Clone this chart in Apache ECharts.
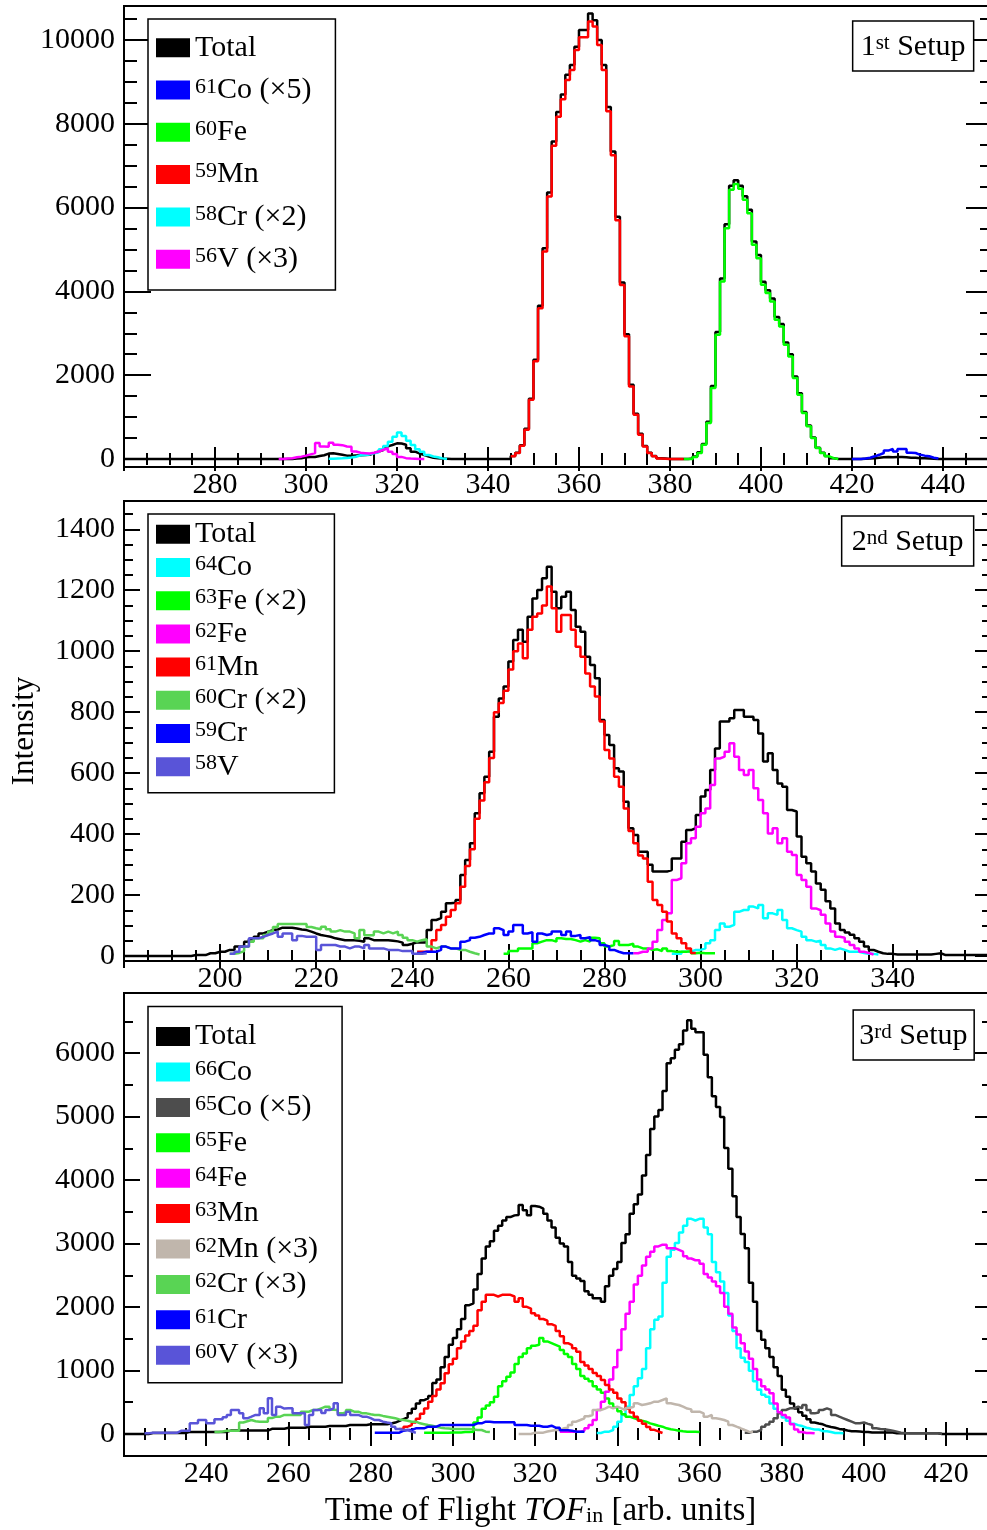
<!DOCTYPE html>
<html>
<head>
<meta charset="utf-8">
<script src="https://cdn.jsdelivr.net/npm/echarts@6/dist/echarts.min.js"></script>
<style>
html,body{margin:0;padding:0;background:#fff;}
#chart{width:987px;height:1530px;}
</style>
</head>
<body>
<div id="chart"></div>
<script>
// ================= DATA =================
// Histograms: value of each 1-unit bin, starting at the given TOF bin edge.

// ---------- Panel 1 : 1st Setup ----------
const p1XTicks = [280, 300, 320, 340, 360, 380, 400, 420, 440];
const p1YTicks = [0, 2000, 4000, 6000, 8000, 10000];
const p1TotalStart = 260;
const p1Total = [
  0,0,0,0,0,0,0,0,0,0, 0,0,0,0,0,0,0,0,0,0, 0,0,0,0,0,0,0,0,0,0, 0,0,0,0,0,0,0,
  10,20,40,45,50,70,90,130,135,120,100,80,80,85,90,95,100,140,180,215,300,334,374,370,340,255,175,130,95,60,30,20,10,5,
  0,0,0,0,0,0,0,0,0,0,0,0,0,0,
  70,150,330,720,1440,2370,3660,5030,6360,7580,8280,8700,9170,9400,9840,10240,10240,10630,10470,10000,9400,8400,7340,5780,4210,2980,1770,1080,600,310,150,70,20,10,
  0,0,0,0,0,
  10,60,160,360,890,1740,3030,4310,5600,6520,6650,6520,6270,5950,5190,4870,4230,4030,3830,3390,3220,2780,2500,1970,1570,1120,800,515,270,150,70,20,
  0,0,0,0,0,0,5,
  10,20,30,40,50,40,50,50,40,30,30,20,15,10,5,
  0,0,0,0,0,0,0,0,0,0,0,0,0
];
const p1Co61Start = 420;
const p1Co61 = [0,0,10,30,64,100,143,200,240,180,240,240,150,143,100,80,64,30,10];
const p1Fe60Start = 383;
const p1Fe60 = [0,0,48,143,342,860,1693,2965,4237,5509,6423,6560,6450,6185,5867,5112,4793,4157,3959,3760,3323,3164,2727,2449,1932,1534,1097,779,500,262,143,64,20,0];
const p1Mn59Start = 345;
const p1Mn59 = [64,143,318,700,1415,2330,3600,4950,6265,7473,8170,8586,9047,9285,9762,10065,10065,10439,10320,9880,9285,8300,7250,5700,4150,2930,1733,1057,580,300,143,64,10,5,0,0,0,0];
const p1Cr58Start = 305;
const p1Cr58 = [5,10,15,25,35,55,90,95,110,135,160,230,310,414,533,630,550,438,334,230,175,95,60,40,15,0];
const p1V56Start = 294;
const p1V56 = [0,10,20,40,56,80,110,140,380,300,290,390,340,330,300,290,180,150,140,130,150,180,220,250,170,120,50,20,10,5,0,0];

// ---------- Panel 2 : 2nd Setup ----------
const p2XTicks = [200, 220, 240, 260, 280, 300, 320, 340];
const p2YTicks = [0, 200, 400, 600, 800, 1000, 1200, 1400];
const p2TotalStart = 180;
const p2Total = [
  0,0,0,0,0,0,0,0,0,0,0,0,0,0,
  3,3,3,9,9,14,14,20,20,31,31,47,55,63,74,80,85,87,93,93,93,90,87,85,80,74,69,66,63,58,55,52,52,52,50,47,58,52,52,52,52,50,48,44,36,40,45,44,44,85,118,124,145,173,175,184,
  266,315,370,468,534,588,670,785,845,884,
  966,1037,1070,1031,1113,1173,1201,1239,1277,1195,
  1141,1179,1195,1135,1080,1064,982,955,911,774,
  725,692,616,605,506,419,397,342,342,299,
  277,277,277,282,320,320,375,413,419,463,
  523,545,610,681,769,769,780,807,807,785,
  785,774,730,638,665,610,566,555,479,474,
  392,326,304,277,238,217,180,156,107,85,
  77,70,58,47,31,20,14,9,7,7,
  5,5,5,5,5,5,5,5,7,9,
  3,3,3,3,3,3,3,3,3,3,3
];
const p2Co64Start = 294;
const p2Co64 = [7,7,14,14,20,20,25,42,52,85,107,96,102,145,151,151,162,156,167,124,140,135,151,118,91,85,80,63,52,47,50,36,25,20,25,20,14,14,14,10,7,7,5];
const p2Fe63Start = 259;
const p2Fe63 = [7,16,16,25,25,25,42,47,52,52,47,58,56,56,52,47,52,47,60,58,42,31,36,49,36,36,40,31,25,25,20,22,16,25,16,14,14,14,16,9,11,9,9,9];
const p2Fe62Start = 286;
const p2Fe62 = [9,14,14,25,47,85,118,140,249,255,304,370,386,424,468,484,561,648,654,670,698,654,610,594,610,550,512,468,402,419,370,386,342,331,266,249,227,156,150,135,107,80,63,60,47,36,25,14,10,5];
const p2Mn61Start = 241;
const p2Mn61 = [14,14,14,52,85,102,129,151,173,227,295,350,450,510,570,650,800,830,870,940,1000,1025,977,1070,1113,1124,1150,1212,1141,1064,1119,1119,1070,1015,982,927,884,851,769,676,648,588,555,484,410,370,330,320,244,184,167,145,113,74,58,42,25,10];
const p2Cr60Start = 202;
const p2Cr60 = [7,10,16,30,47,58,58,69,80,95,105,105,105,105,105,105,95,91,88,96,88,80,85,80,80,74,58,85,68,68,80,74,80,74,80,69,60,52,47,52,55,31,25,31,31,25,25,20,20,14,9,5];
const p2Cr59Start = 241;
const p2Cr59 = [10,14,14,14,20,31,25,25,25,47,52,60,63,69,74,74,91,85,69,80,102,102,74,78,47,74,69,72,80,80,69,80,66,69,58,62,52,47,36,31,20,14,9,9,9];
const p2V58Start = 202;
const p2V58 = [7,14,31,31,58,58,63,69,74,80,63,74,74,52,66,63,63,63,20,36,36,36,31,31,25,31,31,25,36,25,25,25,20,20,20,16,16,16,7,7,9];

// ---------- Panel 3 : 3rd Setup ----------
const p3XTicks = [240, 260, 280, 300, 320, 340, 360, 380, 400, 420];
const p3YTicks = [0, 1000, 2000, 3000, 4000, 5000, 6000];
const p3TotalStart = 220;
const p3Total = [
  0,0,0,0,0,0,
  16,16,16,16,16,16,16,16,16,
  33,33,33,33,33,33,33,33,33,33,
  54,54,54,54,54,54,54,54,54,54,
  82,82,82,82,
  98,98,98,98,98,
  114,114,114,114,114,
  125,125,125,125,125,
  141,141,141,141,141,
  152,152,152,152,152,
  165,180,207,235,261,326,397,479,533,560,598,805,860,1050,1213,1404,
  1512,1648,1811,2029,2056,2274,2519,2764,2954,3035,
  3199,3280,3362,3416,3443,3450,3607,3525,3443,3590,
  3580,3550,3470,3362,3253,3090,3000,2954,2709,2491,
  2450,2410,2247,2192,2138,2138,2084,2328,2491,2600,
  2709,3008,3144,3470,3620,3770,4069,4395,4803,5000,
  5103,5402,5837,5919,6050,6136,6354,6517,6381,6327,
  6327,5974,5620,5320,5150,4994,4504,4178,3743,3416,
  3150,2927,2383,2084,1621,1485,1350,1213,1050,914,
  696,588,479,400,343,288,234,180,165,152,
  125,110,98,80,71,54,44,44,40,33,
  33,22,22,22,22,22,22,11,11,11,
  11,11,11,11,11,11,11,11,0,0,
  0,0,0,0,0,0,0,0,0,0,0
];
const p3Co66Start = 335;
const p3Co66 = [16,37,37,63,115,194,300,430,614,750,877,1023,1349,1648,1800,1850,2383,2791,2900,3008,3172,3280,3389,3362,3389,3389,3253,3144,2709,2546,2400,2220,1866,1621,1349,1200,1132,996,832,696,620,588,479,397,343,261,207,163,140,125,98,85,71,71,44,44,30,16,16,10];
const p3Co65Start = 371;
const p3Co65 = [20,37,37,63,115,150,194,247,325,378,404,404,430,404,457,378,325,340,378,404,380,300,273,247,220,194,168,168,180,160,142,89,80,75,63,50,37,21,15,10,10,10,10,10,10,10,10,5];
const p3Fe65Start = 293;
const p3Fe65 = [20,20,20,20,20,20,25,25,25,30,30,37,180,261,397,450,500,588,751,832,900,968,1104,1213,1268,1349,1390,1404,1512,1458,1431,1404,1376,1322,1260,1213,1104,1023,914,870,832,751,700,650,560,480,420,360,310,273,250,230,210,194,168,150,130,115,89,75,65,52,44,37,37,37,30];
const p3Fe64Start = 326;
const p3Fe64 = [37,37,37,37,37,50,89,142,220,378,509,667,860,1050,1322,1648,1893,2084,2355,2491,2655,2791,2872,2954,2981,2981,2927,2927,2900,2872,2800,2764,2736,2736,2682,2519,2464,2400,2328,2220,2002,1893,1676,1567,1431,1300,1186,1023,860,751,700,642,479,343,300,261,152,71,30,16,16,10];
const p3Mn63Start = 287;
const p3Mn63 = [79,115,140,180,240,320,400,509,600,700,798,955,1100,1186,1349,1458,1550,1621,1703,1948,2084,2192,2192,2165,2192,2192,2192,2165,2084,2138,2002,1975,1900,1866,1811,1784,1730,1703,1621,1540,1431,1400,1349,1295,1132,1077,1023,960,914,850,770,700,650,560,500,400,340,270,210,160,110,65,40,16];
const p3Mn62Start = 316;
const p3Mn62 = [0,0,0,21,21,21,40,52,63,63,89,100,142,194,220,247,280,300,378,378,400,430,404,430,404,378,410,430,483,457,470,483,509,509,535,562,483,470,457,430,400,388,352,352,325,273,300,247,235,220,194,142,115,90,63,37,30];
const p3Cr62Start = 242;
const p3Cr62 = [30,40,52,52,52,52,180,200,220,200,194,194,194,250,273,273,300,300,300,300,300,352,352,378,378,404,430,430,380,378,325,340,378,352,352,325,325,310,300,300,285,273,260,247,230,220,210,194,194,168,155,142,130,115,100,89,85,79,79,79,79,79,70,63,63,37,30];
const p3Cr61Start = 281;
const p3Cr61 = [21,21,21,21,21,21,52,63,63,89,89,89,115,115,115,142,142,142,142,142,142,142,142,142,168,168,194,194,184,184,184,184,184,184,142,142,142,131,131,131,115,115,131,100,100,60,60,50,37,37,37];
const p3V60Start = 225;
const p3V60 = [10,21,21,21,21,21,21,21,52,52,52,168,168,220,220,168,168,231,231,263,300,378,378,325,247,273,300,300,404,325,562,300,430,400,404,404,325,325,330,142,300,378,378,330,378,404,483,300,300,352,300,300,273,273,250,220,220,194,180,168,115,80,63,63,37,20];

// ================= CHART =================
const FONT = '"Liberation Serif", "Times New Roman", serif';
const BLACK = '#000000';

function hist(start, vals) {
  const pts = vals.map((v, i) => [start + i, v]);
  pts.push([start + vals.length, vals[vals.length - 1]]);
  return pts;
}
function range(a, b, s) { const r = []; for (let v = a; v <= b + 1e-9; v += s) r.push(v); return r; }

const panels = [
  { grid: {left: 124, top: 6, width: 869, height: 461},
    xMin: 260, xMax: 451, yMin: -191, yMax: 10811, xLab: p1XTicks,
    yMaj: p1YTicks, yMin2: range(500, 10500, 500), yLen: 27, yMinLen: 13,
    series: [
      ['Total', BLACK, p1TotalStart, p1Total],
      ['61Co (×5)', '#0000ff', p1Co61Start, p1Co61],
      ['60Fe', '#00ff00', p1Fe60Start, p1Fe60],
      ['59Mn', '#ff0000', p1Mn59Start, p1Mn59],
      ['58Cr (×2)', '#00ffff', p1Cr58Start, p1Cr58],
      ['56V (×3)', '#ff00ff', p1V56Start, p1V56]
    ],
    legend: {left: 148, top: 19, itemGap: 12.3, padding: [13.7, 24, 15.8, 8]},
    title: {text: '{n|1}{s|st}{n| Setup}', top: 22, padLR: 8.5}
  },
  { grid: {left: 124, top: 501, width: 867, height: 460},
    xMin: 180, xMax: 360.44, yMin: -16.4, yMax: 1492.8, xLab: p2XTicks,
    yMaj: p2YTicks, yMin2: range(50, 1450, 50), yLen: 16, yMinLen: 9,
    series: [
      ['Total', BLACK, p2TotalStart, p2Total],
      ['64Co', '#00ffff', p2Co64Start, p2Co64],
      ['63Fe (×2)', '#00ff00', p2Fe63Start, p2Fe63],
      ['62Fe', '#ff00ff', p2Fe62Start, p2Fe62],
      ['61Mn', '#ff0000', p2Mn61Start, p2Mn61],
      ['60Cr (×2)', '#59d454', p2Cr60Start, p2Cr60],
      ['59Cr', '#0000ff', p2Cr59Start, p2Cr59],
      ['58V', '#5954d8', p2V58Start, p2V58]
    ],
    legend: {left: 148, top: 514, itemGap: 3.2, padding: [5.3, 28, 11, 8]},
    title: {text: '{n|2}{s|nd}{n| Setup}', top: 517, padLR: 10.5}
  },
  { grid: {left: 124, top: 993, width: 867, height: 463},
    xMin: 220, xMax: 430.9, yMin: -346.5, yMax: 6945, xLab: p3XTicks,
    yMaj: p3YTicks, yMin2: range(500, 6500, 500), yLen: 16, yMinLen: 9,
    series: [
      ['Total', BLACK, p3TotalStart, p3Total],
      ['66Co', '#00ffff', p3Co66Start, p3Co66],
      ['65Co (×5)', '#4d4d4d', p3Co65Start, p3Co65],
      ['65Fe', '#00ff00', p3Fe65Start, p3Fe65],
      ['64Fe', '#ff00ff', p3Fe64Start, p3Fe64],
      ['63Mn', '#ff0000', p3Mn63Start, p3Mn63],
      ['62Mn (×3)', '#c0b6ac', p3Mn62Start, p3Mn62],
      ['62Cr (×3)', '#59d454', p3Cr62Start, p3Cr62],
      ['61Cr', '#0000ff', p3Cr61Start, p3Cr61],
      ['60V (×3)', '#5954d8', p3V60Start, p3V60]
    ],
    legend: {left: 148, top: 1006.5, itemGap: 5.4, padding: [15.1, 24, 12.5, 8]},
    title: {text: '{n|3}{s|rd}{n| Setup}', top: 1011, padLR: 6.5}
  }
];

const tickLine = {color: BLACK, width: 2};
const labelStyle = {fontFamily: FONT, fontSize: 30, color: BLACK};
const legendRich = {
  s: {fontFamily: FONT, fontSize: 22, lineHeight: 14, verticalAlign: 'top', color: BLACK},
  t: {fontFamily: FONT, fontSize: 30, lineHeight: 28, color: BLACK}
};
function legendFmt(name) {
  const m = name.match(/^(\d+)(.*)$/);
  return m ? '{s|' + m[1] + '}{t|' + m[2] + '}' : '{t|' + name + '}';
}

const grids = [], xAxes = [], yAxes = [], series = [], legends = [], titles = [];
panels.forEach((p, gi) => {
  grids.push(Object.assign({show: true, borderColor: BLACK, borderWidth: 2, backgroundColor: 'transparent',
    containLabel: false, outerBoundsMode: 'none'}, p.grid));
  const xBase = {type: 'value', gridIndex: gi, min: p.xMin, max: p.xMax, interval: 20,
    axisLine: {show: false}, splitLine: {show: false},
    axisTick: {show: true, inside: true, length: 12, lineStyle: tickLine},
    minorTick: {show: true, splitNumber: 4, length: 6, lineStyle: tickLine}};
  const labs = p.xLab;
  const xb = Object.assign({}, xBase, {position: 'bottom',
    axisLabel: Object.assign({show: true, margin: 3, showMinLabel: false, showMaxLabel: false,
      hideOverlap: false, formatter: v => (labs.indexOf(v) >= 0 ? String(v) : '')}, labelStyle)});
  if (gi === 2) {
    Object.assign(xb, {
      name: 'Time of Flight {i|TOF}{sub|in} [arb. units]', nameLocation: 'middle', nameGap: 39,
      nameTextStyle: {fontFamily: FONT, fontSize: 33, color: BLACK, lineHeight: 32, padding: [0, 34, 0, 0],
        rich: {i: {fontFamily: FONT, fontSize: 33, fontStyle: 'italic', color: BLACK, lineHeight: 32},
               sub: {fontFamily: FONT, fontSize: 22, color: BLACK, lineHeight: 14, verticalAlign: 'bottom'}}}
    });
  }
  xAxes.push(xb);
  xAxes.push(Object.assign({}, xBase, {position: 'top', axisLabel: {show: false}}));

  const yBase = {type: 'value', gridIndex: gi, min: p.yMin, max: p.yMax,
    axisLine: {show: false}, splitLine: {show: false}};
  ['left', 'right'].forEach(side => {
    yAxes.push(Object.assign({}, yBase, {position: side,
      axisTick: {show: true, inside: true, length: p.yLen, customValues: p.yMaj, lineStyle: tickLine},
      axisLabel: side === 'left'
        ? Object.assign({show: true, margin: 9, customValues: p.yMaj, formatter: v => String(v)}, labelStyle)
        : {show: false}}));
    yAxes.push(Object.assign({}, yBase, {position: side,
      axisTick: {show: true, inside: true, length: p.yMinLen, customValues: p.yMin2, lineStyle: tickLine},
      axisLabel: {show: false}}));
  });

  p.series.forEach(([name, color, start, vals]) => {
    series.push({name, type: 'line', step: 'end', data: hist(start, vals),
      xAxisIndex: gi * 2, yAxisIndex: gi * 4, symbol: 'none', showSymbol: false,
      color, lineStyle: {color, width: 2.5}, itemStyle: {color},
      clip: true, silent: true, animation: false, emphasis: {disabled: true}});
  });

  legends.push(Object.assign({
    orient: 'vertical', itemWidth: 34, itemHeight: 19, icon: 'rect', selectedMode: false,
    backgroundColor: '#ffffff', borderColor: BLACK, borderWidth: 1.5, borderRadius: 0,
    data: p.series.map(s => s[0]), formatter: legendFmt,
    itemStyle: {borderWidth: 0},
    textStyle: {fontFamily: FONT, fontSize: 30, color: BLACK, lineHeight: 28, rich: legendRich}
  }, p.legend));

  titles.push({
    text: p.title.text, right: 13, top: p.title.top,
    padding: [11, p.title.padLR, 9, p.title.padLR],
    borderColor: BLACK, borderWidth: 1.5, backgroundColor: '#ffffff',
    textStyle: {fontFamily: FONT, fontSize: 30, color: BLACK, fontWeight: 'normal',
      rich: {n: {fontFamily: FONT, fontSize: 30, lineHeight: 28, color: BLACK},
             s: {fontFamily: FONT, fontSize: 21, lineHeight: 12, verticalAlign: 'top', color: BLACK}}}
  });
});

const chart = echarts.init(document.getElementById('chart'), null, {renderer: 'canvas'});
chart.setOption({
  animation: false,
  backgroundColor: '#ffffff',
  textStyle: {fontFamily: FONT},
  grid: grids, xAxis: xAxes, yAxis: yAxes, series, legend: legends, title: titles,
  graphic: [{type: 'text', x: 25, y: 731, rotation: Math.PI / 2,
    style: {text: 'Intensity', fill: BLACK, font: '31px "Liberation Serif"',
      align: 'center', verticalAlign: 'middle', textAlign: 'center', textVerticalAlign: 'middle'}}]
});
</script>
</body>
</html>
